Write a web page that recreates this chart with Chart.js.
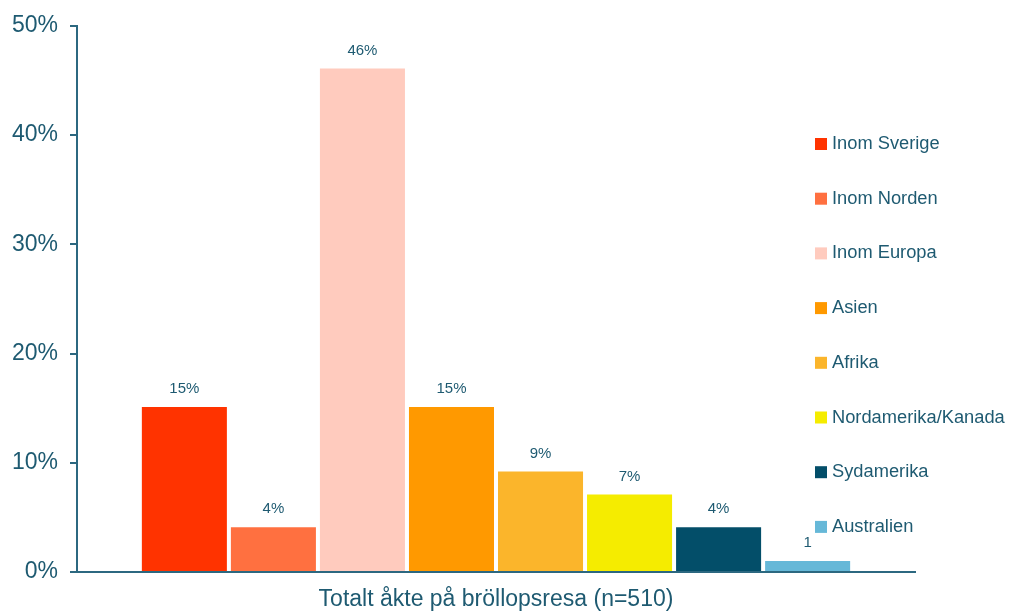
<!DOCTYPE html>
<html>
<head>
<meta charset="utf-8">
<script src="https://cdn.jsdelivr.net/npm/chart.js@4/dist/chart.umd.min.js"></script>
<style>
  body { margin: 0; background: #fff; }
</style>
</head>
<body>
<canvas id="chart" width="1011" height="611"></canvas>
<script>
const category = ['Totalt åkte på bröllopsresa (n=510)'];
const regions = ['Inom Sverige', 'Inom Norden', 'Inom Europa', 'Asien', 'Afrika',
                 'Nordamerika/Kanada', 'Sydamerika', 'Australien'];
const shares = [15.1, 4.1, 46.1, 15.1, 9.2, 7.1, 4.1, 1.0];
const shareLabels = ['15%', '4%', '46%', '15%', '9%', '7%', '4%', '1'];
const colors = ['#FF3300', '#FF7040', '#FFCBBE', '#FF9900', '#FBB52B',
                '#F5EC00', '#034E69', '#66B8D8'];
const yTicks = [0, 10, 20, 30, 40, 50];

const textColor = '#1E5A71';
const axisColor = '#2C6880';
const font = 'Liberation Sans, Arial, sans-serif';

// labels above each bar
const barLabels = {
    id: 'barLabels',
    afterDatasetsDraw(chart) {
        const ctx = chart.ctx;
        ctx.save();
        ctx.fillStyle = textColor;
        ctx.font = '15px ' + font;
        ctx.textAlign = 'center';
        ctx.textBaseline = 'middle';
        chart.data.datasets.forEach((ds, i) => {
            const bar = chart.getDatasetMeta(i).data[0];
            ctx.fillText(shareLabels[i], bar.x, bar.y - 18);
        });
        ctx.restore();
    }
};

// legend sits inside the plot on the right, so draw it by hand
const sideLegend = {
    id: 'sideLegend',
    afterDraw(chart) {
        const ctx = chart.ctx;
        ctx.save();
        ctx.font = '18.3px ' + font;
        ctx.textBaseline = 'middle';
        chart.data.datasets.forEach((ds, i) => {
            const y = 144 + i * 54.7;
            ctx.fillStyle = ds.backgroundColor;
            ctx.fillRect(815, y - 6, 12, 12);
            ctx.fillStyle = textColor;
            ctx.fillText(ds.label, 832, y);
        });
        ctx.restore();
    }
};

new Chart(document.getElementById('chart'), {
    type: 'bar',
    data: {
        labels: category,
        datasets: regions.map((r, i) => ({
            label: r,
            data: [shares[i]],
            backgroundColor: colors[i],
            borderWidth: 0
        }))
    },
    options: {
        responsive: false,
        animation: false,
        categoryPercentage: 0.85,
        barPercentage: 0.955,
        layout: {padding: {top: 24, right: 96, left: 0, bottom: 0}},
        plugins: {
            legend: {display: false},
            tooltip: {enabled: false}
        },
        scales: {
            x: {
                grid: {display: false},
                border: {color: axisColor, width: 2},
                ticks: {color: textColor, font: {size: 23, family: font}, padding: 6},
                afterFit(scale) { scale.height = 39; }
            },
            y: {
                min: 0,
                max: 50,
                afterBuildTicks(scale) { scale.ticks = yTicks.map(v => ({value: v})); },
                grid: {drawOnChartArea: false, drawTicks: true, tickLength: 7, color: axisColor, lineWidth: 2},
                border: {color: axisColor, width: 2},
                ticks: {
                    color: textColor,
                    font: {size: 23, family: font},
                    padding: 12,
                    callback: v => v + '%'
                },
                afterFit(scale) { scale.width = 77; }
            }
        }
    },
    plugins: [barLabels, sideLegend]
});
</script>
</body>
</html>
